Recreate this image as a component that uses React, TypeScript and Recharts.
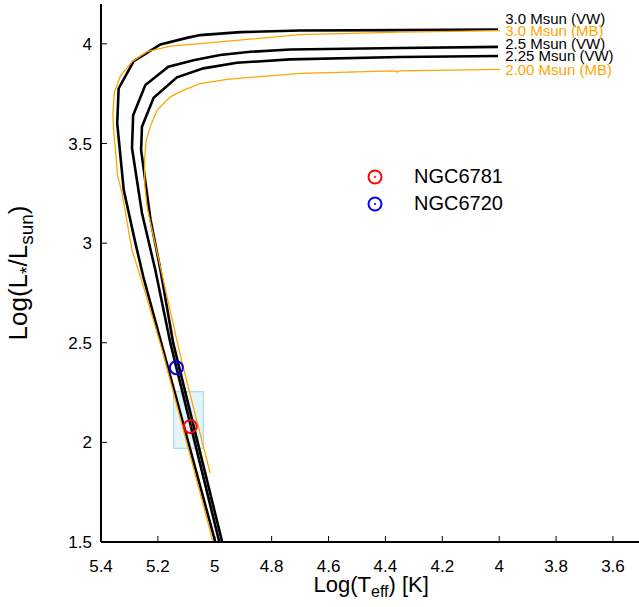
import {
  ComposedChart,
  Label,
  Legend,
  Line,
  ReferenceArea,
  ReferenceDot,
  Scatter,
  XAxis,
  YAxis,
} from "recharts";

const FONT = "'Liberation Sans', Arial, Helvetica, sans-serif";
const ORANGE = "#FFA500";

// axis ticks
const tempTicks = [5.4, 5.2, 5.0, 4.8, 4.6, 4.4, 4.2, 4.0, 3.8, 3.6];
const lumTicks = [1.5, 2, 2.5, 3, 3.5, 4];

// post-AGB tracks, [log Teff, log L/Lsun]
const vw30: [number, number][] = [
  [4.004, 4.072], [4.348, 4.069], [4.7, 4.067], [4.91, 4.059], [5.051, 4.044],
  [5.098, 4.03], [5.191, 3.997], [5.285, 3.913], [5.338, 3.776], [5.343, 3.602],
  [5.32, 3.266], [5.279, 3.0], [5.251, 2.83], [5.188, 2.498], [4.998, 1.5],
];
const mb30: [number, number][] = [
  [3.997, 4.066], [4.348, 4.059], [4.7, 4.046], [4.981, 4.01], [5.156, 3.989],
  [5.238, 3.961], [5.291, 3.91], [5.332, 3.838], [5.353, 3.758], [5.358, 3.653],
  [5.356, 3.567], [5.349, 3.467], [5.342, 3.341], [5.326, 3.251], [5.291, 2.965],
  [5.25, 2.78], [5.185, 2.463], [5.006, 1.5],
];
const vw25: [number, number][] = [
  [4.004, 3.985], [4.348, 3.979], [4.735, 3.972], [4.875, 3.96], [4.981, 3.944],
  [5.075, 3.918], [5.163, 3.885], [5.244, 3.793], [5.287, 3.642], [5.291, 3.477],
  [5.256, 3.151], [5.209, 2.865], [5.156, 2.498], [4.984, 1.5],
];
const vw225: [number, number][] = [
  [4.004, 3.939], [4.348, 3.934], [4.735, 3.922], [4.922, 3.905], [5.04, 3.877],
  [5.133, 3.832], [5.215, 3.729], [5.256, 3.584], [5.259, 3.467], [5.226, 3.119],
  [5.191, 2.865], [5.146, 2.498], [4.974, 1.5],
];
const mb20: [number, number][] = [
  [3.997, 3.872], [4.35, 3.864], [4.359, 3.858], [4.368, 3.864], [4.7, 3.852],
  [4.957, 3.822], [5.051, 3.8], [5.11, 3.768], [5.156, 3.734], [5.18, 3.701],
  [5.203, 3.668], [5.225, 3.592], [5.241, 3.517], [5.247, 3.417], [5.246, 3.291],
  [5.238, 3.182], [5.226, 3.101], [5.131, 2.498], [5.111, 2.378], [5.016, 1.846],
];

const trackNames = ["3.0 Msun (VW)", "3.0 Msun (MB)", "2.5 Msun (VW)", "2.25 Msun (VW)", "2.00 Msun (MB)"];
const trackData = [vw30, mb30, vw25, vw225, mb20];
const trackIsVW = [true, false, true, true, false];
const trackLabelLum = [4.125, 4.064, 4.001, 3.941, 3.868];

// central stars
const nebulae = ["NGC6781", "NGC6720"];
const nebulaTemp = [5.086, 5.135];
const nebulaLum = [2.08, 2.375];
const nebulaColor = ["#ff0000", "#0000ff"];

// uncertainty box
const boxTemp = [5.04, 5.145];
const boxLum = [1.97, 2.255];

const toPoints = (arr: [number, number][]) => arr.map(([x, y]) => ({ x, y }));

const RingDot = ({ cx, cy, color }: { cx: number; cy: number; color: string }) => (
  <g>
    <circle cx={cx} cy={cy} r={6.5} fill="none" stroke={color} strokeWidth={2} />
    <circle cx={cx} cy={cy} r={1.1} fill={color} />
  </g>
);

const NebulaLegend = () => (
  <div style={{ fontFamily: FONT, fontSize: 20, color: "#000" }}>
    {nebulae.map((n, i) => (
      <div key={n} style={{ display: "flex", alignItems: "center", height: 27 }}>
        <svg width={49} height={20}>
          <RingDot cx={10} cy={10} color={nebulaColor[i]} />
        </svg>
        <span>{n}</span>
      </div>
    ))}
  </div>
);

const fmt = (v: number) => String(+v.toFixed(1));

export default function App() {
  return (
    <div
      style={{
        position: "absolute",
        left: 0,
        top: 0,
        width: 639,
        height: 607,
        overflow: "hidden",
        background: "#fff",
      }}
    >
      <ComposedChart
        width={662}
        height={607}
        margin={{ top: 4, right: 20.6, bottom: 20, left: 0 }}
      >
        <XAxis
          dataKey="x"
          type="number"
          domain={[3.5, 5.4]}
          reversed
          allowDataOverflow
          ticks={tempTicks}
          tickFormatter={fmt}
          height={45}
          axisLine={{ stroke: "#000", strokeWidth: 2 }}
          tickLine={{ stroke: "#000", strokeWidth: 1 }}
          tickSize={-6}
          tickMargin={24}
          tick={{ fontSize: 17, fill: "#000", fontFamily: FONT }}
        >
          <Label
            content={({ viewBox }: any) => (
              <text
                x={viewBox.x + viewBox.width / 2}
                y={viewBox.y + 50}
                textAnchor="middle"
                fontFamily={FONT}
                fontSize={22}
                fill="#000"
              >
                Log(T
                <tspan dy={5} fontSize={16}>eff</tspan>
                <tspan dy={-5}>) [K]</tspan>
              </text>
            )}
          />
        </XAxis>
        <XAxis
          xAxisId="top"
          orientation="top"
          dataKey="x"
          type="number"
          domain={[3.5, 5.4]}
          reversed
          allowDataOverflow
          ticks={tempTicks}
          height={0}
          axisLine={{ stroke: "#000", strokeWidth: 2 }}
          tickLine={{ stroke: "#000", strokeWidth: 1 }}
          tickSize={-6}
          tick={() => <g />}
        />
        <YAxis
          dataKey="y"
          type="number"
          domain={[1.5, 4.2]}
          allowDataOverflow
          ticks={lumTicks}
          tickFormatter={fmt}
          width={101}
          axisLine={{ stroke: "#000", strokeWidth: 2 }}
          tickLine={{ stroke: "#000", strokeWidth: 1 }}
          tickSize={-6}
          tickMargin={15}
          tick={{ fontSize: 17, fill: "#000", fontFamily: FONT }}
        >
          <Label
            content={({ viewBox }: any) => (
              <text
                transform={`translate(27, ${viewBox.y + viewBox.height / 2}) rotate(-90)`}
                textAnchor="middle"
                fontFamily={FONT}
                fontSize={26}
                fill="#000"
              >
                Log(L
                <tspan dy={6} fontSize={19}>*</tspan>
                <tspan dy={-6}>/L</tspan>
                <tspan dy={6} fontSize={19}>sun</tspan>
                <tspan dy={-6}>)</tspan>
              </text>
            )}
          />
        </YAxis>
        <YAxis
          yAxisId="right"
          orientation="right"
          dataKey="y"
          type="number"
          domain={[1.5, 4.2]}
          allowDataOverflow
          ticks={lumTicks}
          width={0}
          axisLine={{ stroke: "#000", strokeWidth: 2 }}
          tickLine={{ stroke: "#000", strokeWidth: 1 }}
          tickSize={-6}
          tick={() => <g />}
        />

        <ReferenceArea
          x1={boxTemp[0]}
          x2={boxTemp[1]}
          y1={boxLum[0]}
          y2={boxLum[1]}
          fill="#e3f4fa"
          fillOpacity={1}
          stroke="#a9dcee"
          strokeWidth={1.2}
        />

        {trackData.map((d, i) => (
          <Line
            key={trackNames[i]}
            data={toPoints(d)}
            dataKey="y"
            type="linear"
            stroke={trackIsVW[i] ? "#000" : ORANGE}
            strokeWidth={trackIsVW[i] ? 2.6 : 1.3}
            dot={false}
            activeDot={false}
            legendType="none"
            isAnimationActive={false}
          />
        ))}

        {trackNames.map((n, i) => (
          <ReferenceDot
            key={"lbl" + n}
            x={4.0}
            y={trackLabelLum[i]}
            r={0}
            fill="none"
            stroke="none"
            label={{
              content: ({ viewBox }: any) => (
                <text
                  x={viewBox.x + 6}
                  y={viewBox.y}
                  dy={5}
                  fontFamily={FONT}
                  fontSize={15}
                  fill={trackIsVW[i] ? "#000" : ORANGE}
                >
                  {n}
                </text>
              ),
            }}
          />
        ))}

        {nebulae.map((n, i) => (
          <Scatter
            key={n}
            name={n}
            data={[{ x: nebulaTemp[i], y: nebulaLum[i] }]}
            dataKey="y"
            fill={nebulaColor[i]}
            legendType="none"
            shape={(p: any) => <RingDot cx={p.cx} cy={p.cy} color={nebulaColor[i]} />}
            isAnimationActive={false}
          />
        ))}

        <Legend
          layout="vertical"
          align="center"
          verticalAlign="middle"
          wrapperStyle={{ left: 365, top: 163, width: 200 }}
          content={() => <NebulaLegend />}
        />
      </ComposedChart>
    </div>
  );
}
